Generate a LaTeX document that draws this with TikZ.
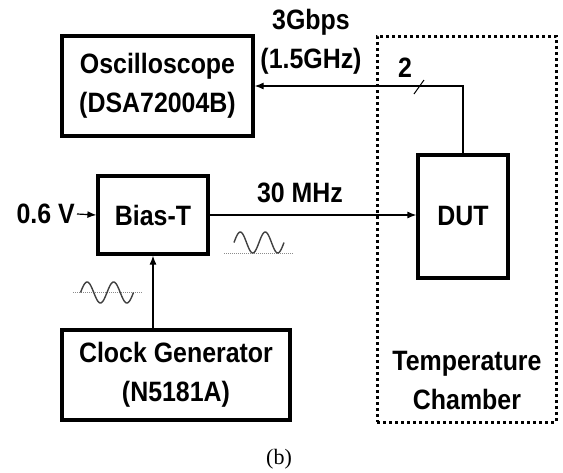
\documentclass[tikz,border=0pt]{standalone}
\usepackage{fontspec}
\setmainfont{Liberation Sans}
\newfontfamily\lblfam{Liberation Sans}[FakeStretch=0.89]
\newfontfamily\capfont{Liberation Serif}
\usetikzlibrary{arrows.meta}
\newcommand\lblfont{\lblfam\fontsize{28}{39}\selectfont\bfseries}
\begin{document}
\begin{tikzpicture}[x=1pt,y=-1pt,
  box/.style={draw, line width=3.2pt, align=center, font=\lblfont, inner sep=0pt},
  conn/.style={line width=1.2pt, -{Latex[length=9pt,width=7pt]}},
  lbl/.style={font=\lblfont, align=center, inner sep=1pt},
  wave/.style={line width=1.4pt, draw=black!75},
  wavebase/.style={draw=black!45, line width=0.9pt, dash pattern=on 1pt off 1pt}]
\useasboundingbox[fill=white] (0,0) rectangle (563,472);

% dotted temperature chamber
\node[draw, line width=3pt, dash pattern=on 3pt off 3pt, minimum width=179pt, minimum height=386pt, inner sep=0pt] (chamber) at (466.5,229) {};
\node[lbl] (chtext) at (467,380) {Temperature\\Chamber};

% boxes
\node[box, minimum width=191pt, minimum height=100pt] (osc) at (157.5,86) {Oscilloscope\\(DSA72004B)};
\node[box, minimum width=110pt, minimum height=78pt] (bias) at (153,215) {Bias-T};
\node[box, minimum width=228pt, minimum height=90pt] (clk) at (176,375) {Clock Generator\\(N5181A)};
\node[box, minimum width=90pt, minimum height=123pt] (dut) at (463,216.5) {DUT};

% labels
\node[lbl, anchor=east, inner sep=0pt] (v06) at (75,214) {0.6 V};
\node[lbl] (rate) at (311,42) {3Gbps\\(1.5GHz)};
\node[lbl] (two) at (405,68) {2};
\node[lbl] (freq) at (300,193) {30 MHz};
\node[font=\capfont\fontsize{22}{24}\selectfont] (cap) at (279,459) {(b)};

% connectors
\draw[conn] (v06.east) ++(2pt,0) coordinate (v06s) (v06s) -- (bias.west);
\draw[conn] (bias.east) -- (bias.east -| dut.west);
\draw[conn] (bias.south |- clk.north) -- (bias.south);
\draw[conn] (dut.north) |- (osc.east);
\coordinate (tickA) at (414,94);
\coordinate (tickB) at (424,80);
\draw[line width=1pt] (tickA) -- (tickB);

% sine waves
\draw[wavebase] (224,253) -- (294,253);
\draw[wave] plot[domain=0:50, samples=100, smooth] ({234+\x}, {242.5 - 10.5*sin(14.4*\x)});
\draw[wavebase] (73,292.5) -- (143,292.5);
\draw[wave] plot[domain=0:53, samples=100, smooth] ({80.5+\x}, {292.5 - 10.5*sin(13.585*\x)});
\end{tikzpicture}
\end{document}
